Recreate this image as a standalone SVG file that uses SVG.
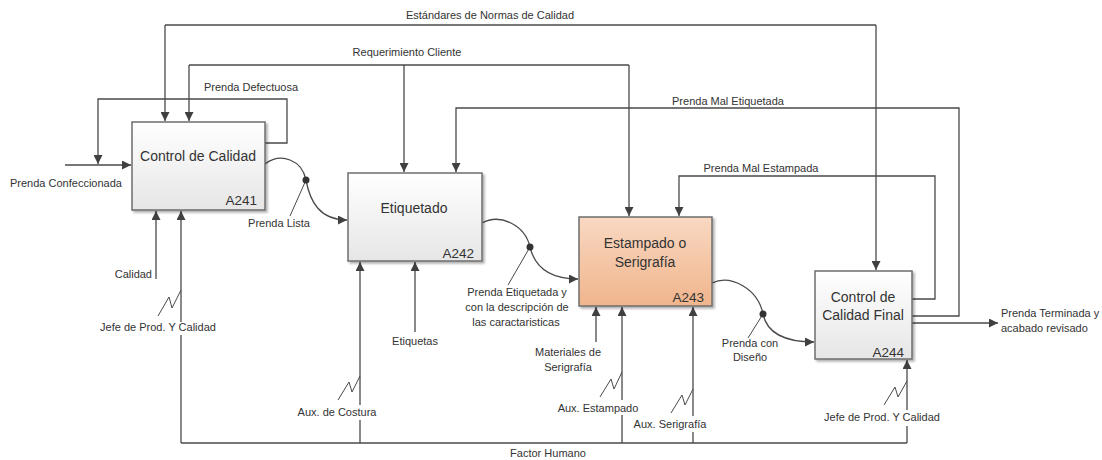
<svg xmlns="http://www.w3.org/2000/svg" width="1102" height="460" viewBox="0 0 1102 460">
<defs>
<linearGradient id="gGray" x1="0" y1="0" x2="0" y2="1">
<stop offset="0" stop-color="#ffffff"/>
<stop offset="1" stop-color="#e6e6e6"/>
</linearGradient>
<linearGradient id="gOrange" x1="0" y1="0" x2="0" y2="1">
<stop offset="0" stop-color="#f9d8c2"/>
<stop offset="1" stop-color="#f0b58c"/>
</linearGradient>
<filter id="sh" x="-10%" y="-10%" width="130%" height="130%">
<feDropShadow dx="2" dy="2" stdDeviation="1.2" flood-color="#000" flood-opacity="0.3"/>
</filter>
<marker id="ar" viewBox="0 0 10 10" refX="10" refY="5" markerWidth="9" markerHeight="9" markerUnits="userSpaceOnUse" orient="auto">
<path d="M0,0 L10,5 L0,10 z" fill="#404040"/>
</marker>
<style>
.ln{fill:none;stroke:#4a4a4a;stroke-width:1.3}
.sq{fill:none;stroke:#4a4a4a;stroke-width:1}
.box{stroke:#6e6e6e;stroke-width:1.5;filter:url(#sh)}
.t{font-family:"Liberation Sans",Arial,sans-serif;font-size:11px;fill:#333}
.bt{font-family:"Liberation Sans",Arial,sans-serif;font-size:14px;fill:#333;text-anchor:middle}
.code{font-family:"Liberation Sans",Arial,sans-serif;font-size:13.5px;fill:#333;text-anchor:end}
.m{text-anchor:middle}
.e{text-anchor:end}
.dot{fill:#333}
</style>
</defs>
<rect width="1102" height="460" fill="#ffffff"/>

<g id="connectors">
<!-- Estandares de Normas de Calidad -->
<path class="ln" d="M165,25 H876"/>
<path class="ln" d="M165,25 V121" marker-end="url(#ar)"/>
<path class="ln" d="M876,25 V270" marker-end="url(#ar)"/>
<!-- Requerimiento Cliente -->
<path class="ln" d="M189,65 H629"/>
<path class="ln" d="M189,65 V121" marker-end="url(#ar)"/>
<path class="ln" d="M404,65 V172" marker-end="url(#ar)"/>
<path class="ln" d="M629,65 V216" marker-end="url(#ar)"/>
<!-- Prenda Defectuosa -->
<path class="ln" d="M265,143 H287 V99 H98 V164" marker-end="url(#ar)"/>
<!-- Prenda Confeccionada -->
<path class="ln" d="M65,165 H131" marker-end="url(#ar)"/>
<!-- Prenda Mal Etiquetada -->
<path class="ln" d="M912,316 H959 V108 H456 V172" marker-end="url(#ar)"/>
<!-- Prenda Mal Estampada -->
<path class="ln" d="M912,299 H935 V176 H679 V216" marker-end="url(#ar)"/>
<!-- Output -->
<path class="ln" d="M912,323 H998" marker-end="url(#ar)"/>
<!-- Prenda Lista -->
<path class="ln" d="M265,164 C281,152 302,160 306,180 C310,202 320,220 347,220" marker-end="url(#ar)"/>
<path class="ln" d="M290,216 L306,180" style="stroke-width:1"/>
<circle class="dot" cx="306" cy="180" r="3.5"/>
<!-- Prenda Etiquetada -->
<path class="ln" d="M482,223 C500,213 525,225 530,247 C535,268 550,279 578,279" marker-end="url(#ar)"/>
<path class="ln" d="M508,285 L530,247" style="stroke-width:1"/>
<circle class="dot" cx="530" cy="247" r="3.5"/>
<!-- Prenda con Diseno -->
<path class="ln" d="M712,283 C731,274 758,289 763,314 C767,333 785,342 814,342" marker-end="url(#ar)"/>
<path class="ln" d="M748,338 L763,314" style="stroke-width:1"/>
<circle class="dot" cx="763" cy="314" r="3.5"/>
<!-- Calidad -->
<path class="ln" d="M156,279 V211" marker-end="url(#ar)"/>
<!-- Factor Humano -->
<path class="ln" d="M181,443 H907"/>
<!-- Jefe left -->
<path class="ln" d="M181,443 V335"/>
<path class="ln" d="M181,322 V211" marker-end="url(#ar)"/>
<path class="sq" d="M158,316 L169,297 L172,308 L181,290"/>
<!-- Aux de Costura -->
<path class="ln" d="M360,443 V420"/>
<path class="ln" d="M360,405 V262" marker-end="url(#ar)"/>
<path class="sq" d="M338,400 L349,382 L352,392 L360,376"/>
<!-- Etiquetas -->
<path class="ln" d="M415,332 V262" marker-end="url(#ar)"/>
<!-- Materiales -->
<path class="ln" d="M596,342 V307" marker-end="url(#ar)"/>
<!-- Aux Estampado -->
<path class="ln" d="M622,443 V415"/>
<path class="ln" d="M622,400 V307" marker-end="url(#ar)"/>
<path class="sq" d="M600,397 L611,379 L614,389 L622,372"/>
<!-- Aux Serigrafia -->
<path class="ln" d="M693,443 V432"/>
<path class="ln" d="M693,416 V307" marker-end="url(#ar)"/>
<path class="sq" d="M671,413 L682,395 L685,405 L693,389"/>
<!-- Jefe right -->
<path class="ln" d="M907,443 V426"/>
<path class="ln" d="M907,410 V360" marker-end="url(#ar)"/>
<path class="sq" d="M884,405 L895,387 L898,397 L907,381"/>
</g>

<g id="labels">
<text class="t m" x="490" y="19">Estándares de Normas de Calidad</text>
<text class="t m" x="407" y="56">Requerimiento Cliente</text>
<text class="t m" x="251" y="91">Prenda Defectuosa</text>
<text class="t m" x="728" y="105">Prenda Mal Etiquetada</text>
<text class="t m" x="761" y="172">Prenda Mal Estampada</text>
<text class="t" x="10" y="187">Prenda Confeccionada</text>
<text class="t m" x="279" y="227">Prenda Lista</text>
<text class="t e" x="152" y="278">Calidad</text>
<text class="t m" x="158" y="331">Jefe de Prod. Y Calidad</text>
<text class="t m" x="517" y="296">Prenda Etiquetada y</text>
<text class="t m" x="517" y="311">con la descripción de</text>
<text class="t m" x="516" y="326">las caractaristicas</text>
<text class="t m" x="415" y="345">Etiquetas</text>
<text class="t m" x="568" y="356">Materiales de</text>
<text class="t m" x="568" y="371">Serigrafía</text>
<text class="t m" x="750" y="347">Prenda con</text>
<text class="t m" x="750" y="361">Diseño</text>
<text class="t m" x="337" y="416">Aux. de Costura</text>
<text class="t m" x="598" y="412">Aux. Estampado</text>
<text class="t m" x="670" y="428">Aux. Serigrafía</text>
<text class="t m" x="882" y="421">Jefe de Prod. Y Calidad</text>
<text class="t m" x="548" y="457">Factor Humano</text>
<text class="t" x="1001" y="317">Prenda Terminada y</text>
<text class="t" x="1001" y="332">acabado revisado</text>
</g>

<g id="A241">
<rect class="box" x="132" y="122" width="133" height="88" fill="url(#gGray)"/>
<text class="bt" x="198" y="161">Control de Calidad</text>
<text class="code" x="257" y="205">A241</text>
</g>
<g id="A242">
<rect class="box" x="348" y="173" width="134" height="88" fill="url(#gGray)"/>
<text class="bt" x="414" y="213">Etiquetado</text>
<text class="code" x="474" y="258">A242</text>
</g>
<g id="A243">
<rect class="box" x="579" y="217" width="133" height="89" fill="url(#gOrange)"/>
<text class="bt" x="645" y="248">Estampado o</text>
<text class="bt" x="645" y="267">Serigrafía</text>
<text class="code" x="704" y="302">A243</text>
</g>
<g id="A244">
<rect class="box" x="815" y="271" width="97" height="88" fill="url(#gGray)"/>
<text class="bt" x="863" y="302">Control de</text>
<text class="bt" x="863" y="320">Calidad Final</text>
<text class="code" x="904" y="357">A244</text>
</g>
</svg>
